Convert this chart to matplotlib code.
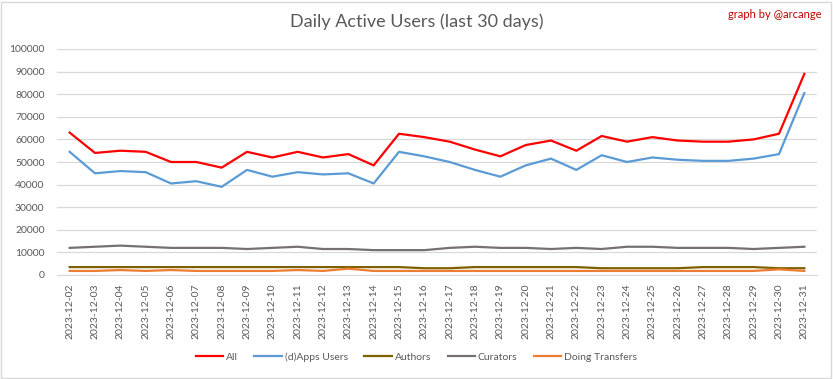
import matplotlib
matplotlib.use("Agg")
import matplotlib.pyplot as plt
from matplotlib.patches import Rectangle

plt.rcParams['font.family'] = ['Lato', 'DejaVu Sans']

dates = ["2023-12-%02d" % d for d in range(2, 32)]
all_users = [63000, 54000, 55000, 54500, 50000, 50000, 47500, 54500, 52000, 54500,
             52000, 53500, 48500, 62500, 61000, 59000, 55500, 52500, 57500, 59500,
             55000, 61500, 59000, 61000, 59500, 59000, 59000, 60000, 62500, 89000]
apps_users = [54500, 45000, 46000, 45500, 40500, 41500, 39000, 46500, 43500, 45500,
              44500, 45000, 40500, 54500, 52500, 50000, 46500, 43500, 48500, 51500,
              46500, 53000, 50000, 52000, 51000, 50500, 50500, 51500, 53500, 80500]
authors = [3500, 3500, 3500, 3500, 3500, 3500, 3500, 3500, 3500, 3500,
           3500, 3500, 3500, 3500, 3000, 3000, 3500, 3500, 3500, 3500,
           3500, 3000, 3000, 3000, 3000, 3500, 3500, 3500, 3000, 3000]
curators = [12000, 12500, 13000, 12500, 12000, 12000, 12000, 11500, 12000, 12500,
            11500, 11500, 11000, 11000, 11000, 12000, 12500, 12000, 12000, 11500,
            12000, 11500, 12500, 12500, 12000, 12000, 12000, 11500, 12000, 12500]
transfers = [1800, 1800, 2200, 1800, 2200, 1800, 1800, 1800, 1800, 2200,
             1800, 2800, 1800, 1800, 1800, 1800, 1800, 1800, 1800, 1800,
             1800, 1800, 1800, 1800, 1800, 1800, 1800, 1800, 2500, 1800]
yticks = list(range(0, 100001, 10000))

series = [
    ("All", all_users, "#FF0000"),
    ("(d)Apps Users", apps_users, "#5B9BD5"),
    ("Authors", authors, "#7F6000"),
    ("Curators", curators, "#767171"),
    ("Doing Transfers", transfers, "#ED7D31"),
]

W, H = 833, 379
fig = plt.figure(figsize=(W / 100, H / 100), dpi=100)
ax = fig.add_axes([57 / W, 1 - 275 / H, (817 - 57) / W, (275 - 49) / H])

x = list(range(len(dates)))
for name, vals, col in series:
    ax.plot(x, vals, color=col, lw=1.6, label=name, solid_joinstyle='round')

ax.set_xlim(-0.5, len(dates) - 0.5)
ax.set_ylim(0, 100000)
ax.set_yticks(yticks)
ax.set_yticklabels([str(v) for v in yticks])
ax.set_xticks(x)
ax.set_xticklabels(dates, rotation=90)
ax.grid(axis='y', color='#D9D9D9', lw=0.9)
ax.set_axisbelow(True)
for s in ['top', 'right', 'left']:
    ax.spines[s].set_visible(False)
ax.spines['bottom'].set_color('#D9D9D9')
ax.tick_params(axis='both', length=0, labelsize=7.5, labelcolor='#595959')
ax.tick_params(axis='x', pad=6)
ax.tick_params(axis='y', pad=9)

fig.text(0.5, 1 - 22 / H, "Daily Active Users (last 30 days)", ha='center', va='center',
         fontsize=13, color='#595959')
fig.text(822 / W, 1 - 15 / H, "graph by @arcange", ha='right', va='center',
         fontsize=8, color='#C00000')

leg = fig.legend(loc='center', bbox_to_anchor=(0.5, 1 - 357 / H), ncol=5, frameon=False,
                 fontsize=7.5, handlelength=2.6, columnspacing=1.6, handletextpad=0.3)
for t in leg.get_texts():
    t.set_color('#595959')

fig.patches.append(Rectangle((1 / W, 1 / H), (W - 3) / W, (H - 3) / H,
                             transform=fig.transFigure, fill=False,
                             edgecolor='#D9D9D9', lw=1))

fig.savefig("out.png", dpi=100, facecolor='white')
